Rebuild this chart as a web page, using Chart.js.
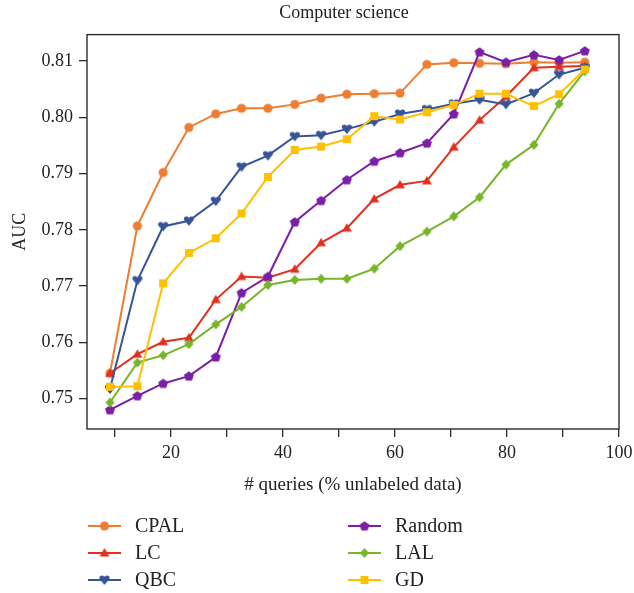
<!DOCTYPE html>
<html>
<head>
<meta charset="utf-8">
<script src="https://cdn.jsdelivr.net/npm/chart.js@4.4.1/dist/chart.umd.min.js"></script>
<style>
  html, body { margin: 0; padding: 0; background: #fff; }
  #graphCanvas { display: block; }
</style>
</head>
<body>
<canvas id="graphCanvas" width="634" height="593"></canvas>
<script>
// x positions (% unlabeled data queried)
const queries = [9.1, 14.0, 18.6, 23.2, 28.0, 32.6, 37.3, 42.1, 46.8, 51.4, 56.3, 60.9, 65.7, 70.5, 75.1, 79.8, 84.8, 89.3, 93.9];

// AUC per method
const cpal   = [0.7545, 0.7807, 0.7902, 0.7982, 0.8006, 0.8016, 0.8016, 0.8023, 0.8034, 0.8041, 0.8042, 0.8043, 0.8094, 0.8097, 0.8096, 0.8095, 0.8098, 0.8097, 0.8098];
const lc     = [0.7545, 0.7579, 0.7601, 0.7608, 0.7676, 0.7717, 0.7715, 0.7730, 0.7777, 0.7803, 0.7855, 0.7880, 0.7887, 0.7947, 0.7995, 0.8037, 0.8088, 0.8090, 0.8091];
const qbc    = [0.7517, 0.7710, 0.7806, 0.7816, 0.7851, 0.7912, 0.7932, 0.7966, 0.7968, 0.7979, 0.7992, 0.8006, 0.8014, 0.8024, 0.8031, 0.8023, 0.8043, 0.8076, 0.8088];
const random = [0.7480, 0.7505, 0.7527, 0.7540, 0.7574, 0.7688, 0.7717, 0.7814, 0.7852, 0.7889, 0.7922, 0.7937, 0.7954, 0.8006, 0.8116, 0.8098, 0.8111, 0.8102, 0.8118];
const lal    = [0.7493, 0.7564, 0.7577, 0.7597, 0.7632, 0.7663, 0.7702, 0.7711, 0.7713, 0.7713, 0.7731, 0.7771, 0.7797, 0.7824, 0.7858, 0.7916, 0.7951, 0.8024, 0.8082];
const gd     = [0.7521, 0.7522, 0.7705, 0.7759, 0.7785, 0.7829, 0.7894, 0.7942, 0.7948, 0.7961, 0.8002, 0.7996, 0.8009, 0.8022, 0.8042, 0.8042, 0.8020, 0.8041, 0.8085];

const methodNames = ['CPAL', 'LC', 'QBC', 'Random', 'LAL', 'GD'];
const methodValues = [cpal, lc, qbc, random, lal, gd];
const methodColors = ['#ED7D31', '#E0301E', '#375596', '#7A1FA6', '#77B52A', '#FFC000'];
const methodShapes = ['circle', 'triangle', 'heart', 'pentagon', 'diamond', 'square'];

const serif = "'Liberation Serif', 'Times New Roman', serif";

// small canvas markers so the odd shapes (pentagon, heart) work too
function makeMarker(shape, color) {
    const c = document.createElement('canvas');
    c.width = 14;
    c.height = 14;
    const g = c.getContext('2d');
    const cx = 7, cy = 7;
    g.fillStyle = color;
    g.beginPath();
    if (shape === 'circle') {
        g.arc(cx, cy, 4.6, 0, Math.PI * 2);
    } else if (shape === 'triangle') {
        g.moveTo(cx, cy - 5.1);
        g.lineTo(cx + 4.9, cy + 3.5);
        g.lineTo(cx - 4.9, cy + 3.5);
    } else if (shape === 'heart') {
        g.moveTo(cx, cy + 5.0);
        g.lineTo(cx - 5.0, cy - 1.2);
        g.arc(cx - 2.5, cy - 2.0, 2.6, Math.PI, 0);
        g.arc(cx + 2.5, cy - 2.0, 2.6, Math.PI, 0);
        g.lineTo(cx + 5.0, cy - 1.2);
    } else if (shape === 'pentagon') {
        for (let k = 0; k < 5; k++) {
            const a = -Math.PI / 2 + k * 2 * Math.PI / 5;
            const px = cx + 5.2 * Math.cos(a);
            const py = cy + 0.4 + 5.2 * Math.sin(a);
            if (k === 0) g.moveTo(px, py); else g.lineTo(px, py);
        }
    } else if (shape === 'diamond') {
        g.moveTo(cx, cy - 5.0);
        g.lineTo(cx + 4.6, cy);
        g.lineTo(cx, cy + 5.0);
        g.lineTo(cx - 4.6, cy);
    } else {
        g.rect(cx - 4, cy - 4, 8, 8);
    }
    g.closePath();
    g.fill();
    return c;
}

const markers = methodShapes.map((s, i) => makeMarker(s, methodColors[i]));

// box around the plot + two column legend under the axis
const framePlugin = {
    id: 'frameAndLegend',
    afterLayout(chart) {
        // nudge the title so it sits where the original had it
        if (chart.titleBlock) {
            chart.titleBlock.left = chart.chartArea.left - 18;
        }
    },
    afterDraw(chart) {
        const ctx = chart.ctx;
        const a = chart.chartArea;
        ctx.save();
        ctx.strokeStyle = '#2b2b2b';
        ctx.lineWidth = 1.4;
        ctx.strokeRect(a.left, a.top, a.right - a.left, a.bottom - a.top);

        const colX = [88, 348];
        const rowY = [526, 553, 580];
        ctx.font = '20px ' + serif;
        ctx.textBaseline = 'middle';
        ctx.textAlign = 'left';
        methodNames.forEach((name, i) => {
            const x0 = colX[i < 3 ? 0 : 1];
            const y = rowY[i % 3];
            ctx.strokeStyle = methodColors[i];
            ctx.lineWidth = 2;
            ctx.beginPath();
            ctx.moveTo(x0, y);
            ctx.lineTo(x0 + 33, y);
            ctx.stroke();
            ctx.drawImage(markers[i], x0 + 16.5 - 7, y - 7);
            ctx.fillStyle = '#222';
            ctx.fillText(name, x0 + 47, y + 1);
        });
        ctx.restore();
    }
};

function initializeChart() {
    const ctx = document.getElementById('graphCanvas').getContext('2d');
    const datasets = methodNames.map((name, i) => ({
        label: name,
        data: queries.map((q, j) => ({ x: q, y: methodValues[i][j] })),
        borderColor: methodColors[i],
        backgroundColor: methodColors[i],
        borderWidth: 2,
        pointStyle: markers[i],
        pointRadius: 4,
        tension: 0,
        fill: false,
        order: methodNames.length - i
    }));

    new Chart(ctx, {
        type: 'line',
        data: { datasets: datasets },
        options: {
            responsive: false,
            animation: false,
            devicePixelRatio: 1,
            layout: {
                padding: { left: 0, top: 0, right: 15, bottom: 97 }
            },
            scales: {
                x: {
                    type: 'linear',
                    min: 5,
                    max: 100,
                    border: { display: false },
                    grid: {
                        drawOnChartArea: false,
                        drawTicks: true,
                        tickLength: 8,
                        color: '#2b2b2b',
                        lineWidth: 1.3
                    },
                    ticks: {
                        stepSize: 10,
                        includeBounds: false,
                        autoSkip: false,
                        maxRotation: 0,
                        padding: 5,
                        color: '#222',
                        font: { family: serif, size: 18 },
                        callback: function(value) {
                            return value % 20 === 0 ? String(value) : '';
                        }
                    },
                    title: {
                        display: true,
                        text: '# queries (% unlabeled data)',
                        color: '#222',
                        font: { family: serif, size: 19 },
                        padding: { top: 0, bottom: 0 }
                    },
                    afterFit: function(scale) {
                        scale.height = 67;
                        // the "100" label may hang over the edge, as in the original
                        scale.paddingLeft = 0;
                        scale.paddingRight = 0;
                    }
                },
                y: {
                    min: 0.7446,
                    max: 0.8147,
                    border: { display: false },
                    grid: {
                        drawOnChartArea: false,
                        drawTicks: true,
                        tickLength: 8,
                        color: '#2b2b2b',
                        lineWidth: 1.3
                    },
                    ticks: {
                        stepSize: 0.01,
                        includeBounds: false,
                        padding: 6,
                        color: '#222',
                        font: { family: serif, size: 18 },
                        callback: function(value) {
                            return value.toFixed(2);
                        }
                    },
                    title: {
                        display: true,
                        text: 'AUC',
                        color: '#222',
                        font: { family: serif, size: 18 },
                        padding: { top: 9, bottom: 0 }
                    },
                    afterFit: function(scale) {
                        scale.width = 87;
                    }
                }
            },
            plugins: {
                legend: { display: false },
                tooltip: { enabled: false },
                title: {
                    display: true,
                    text: 'Computer science',
                    fullSize: false,
                    color: '#222',
                    font: { family: serif, size: 18, weight: 'normal' },
                    padding: { top: 2, bottom: 11 }
                }
            }
        },
        plugins: [framePlugin]
    });
}

window.onload = initializeChart;
</script>
</body>
</html>
